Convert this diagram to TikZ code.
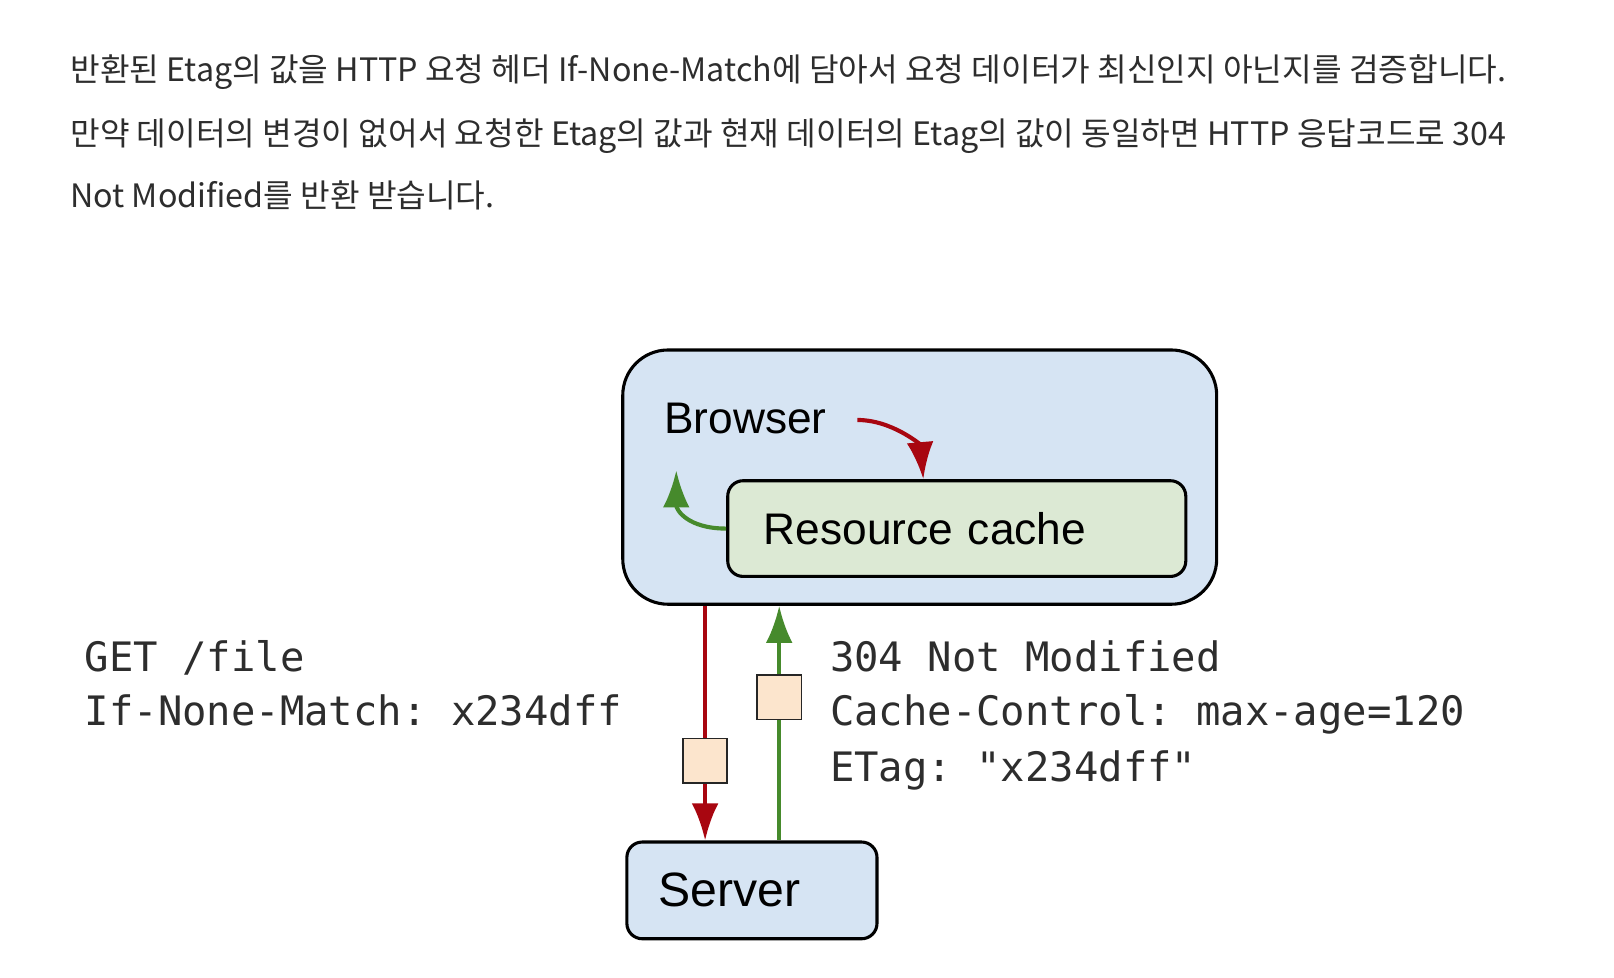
\documentclass[tikz,border=0pt]{standalone}
\usepackage{fontspec}
\setmainfont{Liberation Sans}
\setmonofont{DejaVu Sans Mono}
\newfontfamily\krfont{Noto Sans CJK KR}
\usepackage{tikz}
\usetikzlibrary{arrows.meta, positioning, calc}
\tikzset{>={Latex[length=18pt, width=13pt]}}
\definecolor{mygray}{RGB}{45, 45, 45}
\definecolor{myblue}{RGB}{214, 228, 243}
\definecolor{mygreen}{RGB}{220, 233, 212}
\definecolor{mypeach}{RGB}{252, 229, 205}
\definecolor{myred}{RGB}{168, 6, 16}
\definecolor{mygreen2}{RGB}{70, 138, 44}
\tikzset{
  box/.style = {draw = black, line width = 1.5pt, rounded corners = 7.5pt, fill = myblue, inner sep = 0pt, font = \fontsize{21.5}{24}\selectfont},
  packet/.style = {draw = black!85, line width = 0.8pt, fill = mypeach, minimum size = 21.5pt, inner sep = 0pt},
  header/.style = {anchor = base west, inner sep = 0pt, font = \ttfamily\fontsize{19.7}{24}\selectfont, text = mygray},
  para/.style = {anchor = base west, inner sep = 0pt, font = \krfont\fontsize{15.65}{18}\selectfont, text = mygray},
  flow/.style = {->, line width = 2pt}
}

\begin{document}
\begin{tikzpicture}[x = 0.5pt, y = -0.5pt]
\useasboundingbox (0,0) rectangle (1568,950);
% paragraph
\node[para] (line1) at (68, 79) {반환된 Etag의 값을 HTTP 요청 헤더 If-None-Match에 담아서 요청 데이터가 최신인지 아닌지를 검증합니다.};
\node[para] (line2) at (68, 141) {만약 데이터의 변경이 없어서 요청한 Etag의 값과 현재 데이터의 Etag의 값이 동일하면 HTTP 응답코드로 304};
\node[para] (line3) at (68, 202) {Not Modified를 반환 받습니다.};
% browser and cache
\node[box, rounded corners = 22pt, minimum width = 288.5pt, minimum height = 123.5pt] (browser) at (893.5, 463.5) {};
\node[anchor = west, inner sep = 0pt, font = \fontsize{21.5}{24}\selectfont] (browserlabel) at (645, 407) {Browser};
\node[box, fill = mygreen, minimum width = 222.5pt, minimum height = 46.5pt, text width = 187.5pt, align = left] (cache) at (929.5, 513.5) {Resource cache};
\coordinate (redstart) at (833, 408);
\coordinate (greentip) at (657, 457);
\draw[flow, myred] (redstart) to[out = 0, in = 95] ([xshift = -16.25pt]cache.north);
\draw[flow, mygreen2] (cache.west) to[out = 180, in = -90, looseness = 1.3] (greentip);
% server
\node[box, font = \fontsize{23.4}{26}\selectfont, minimum width = 121.5pt, minimum height = 47pt, text width = 90.5pt, align = left] (server) at (730.5, 865) {Server};
\coordinate (reqx) at (685, 0);
\coordinate (resx) at (757, 0);
\draw[flow, myred] (browser.south -| reqx) -- node[packet, pos = 0.66] (reqpacket) {} (server.north -| reqx);
\draw[flow, mygreen2] (server.north -| resx) -- node[packet, pos = 0.61] (respacket) {} (browser.south -| resx);
% headers
\node[header] (getline) at (82, 652) {GET /file};
\node[header] (matchline) at (82, 705) {If-None-Match: x234dff};
\node[header] (statusline) at (806, 652) {304 Not Modified};
\node[header] (cacheline) at (806, 705) {Cache-Control: max-age=120};
\node[header] (etagline) at (806, 759) {ETag: "x234dff"};
\end{tikzpicture}
\end{document}
